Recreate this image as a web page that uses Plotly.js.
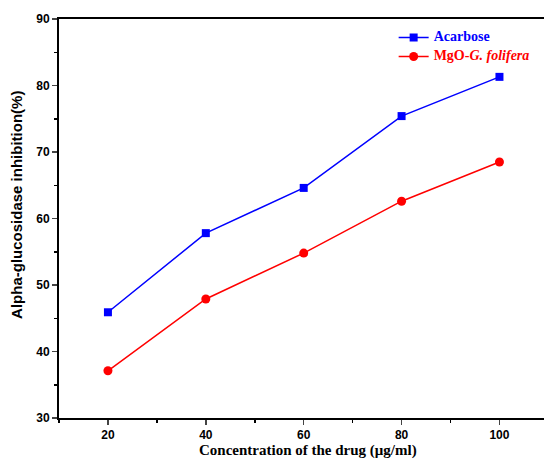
<!DOCTYPE html>
<html>
<head>
<meta charset="utf-8">
<script src="https://cdn.plot.ly/plotly-3.0.1.min.js"></script>
<style>html,body{margin:0;padding:0;background:#fff;}#chart{width:544px;height:459px;}</style>
</head>
<body>
<div id="chart"></div>
<script>
const concentrations = [20, 40, 60, 80, 100];
const acarbose = [45.9, 57.8, 64.6, 75.4, 81.3];
const mgoFolifera = [37.1, 47.9, 54.8, 62.6, 68.5];
const xTickVals = [20, 40, 60, 80, 100];
const yTickVals = [30, 40, 50, 60, 70, 80, 90];

const traces = [
  {
    x: concentrations, y: acarbose, type: 'scatter', mode: 'lines+markers',
    name: '<span style="color:#0000ff;font-size:14px"><b>Acarbose</b></span>',
    line: {color: '#0000ff', width: 1.5},
    marker: {symbol: 'square', size: 8, color: '#0000ff'}
  },
  {
    x: concentrations, y: mgoFolifera, type: 'scatter', mode: 'lines+markers',
    name: '<span style="color:#ff0000;font-size:14px"><b>MgO-<i>G. folifera</i></b></span>',
    line: {color: '#ff0000', width: 1.5},
    marker: {symbol: 'circle', size: 9, color: '#ff0000'}
  }
];

const layout = {
  width: 544, height: 459,
  margin: {l: 59, r: 0, t: 19, b: 41},
  paper_bgcolor: '#fff', plot_bgcolor: '#fff',
  showlegend: true,
  legend: {
    x: 0.69, y: 0.99, xanchor: 'left', yanchor: 'top',
    bgcolor: 'rgba(0,0,0,0)', borderwidth: 0,
    font: {family: 'Liberation Serif, Times New Roman, serif', size: 10},
    tracegroupgap: 0, itemwidth: 30
  },
  xaxis: {
    range: [10, 109.1], tickvals: xTickVals, ticks: 'outside', ticklen: 5, tickwidth: 1.5,
    showline: true, linecolor: '#000', linewidth: 2, mirror: true, showgrid: false, zeroline: false,
    tickfont: {family: 'Liberation Sans, Arial, sans-serif', size: 12, color: '#000', weight: 'bold'},
    minor: {dtick: 10, tick0: 10, ticks: 'outside', ticklen: 3, tickwidth: 1.5, tickcolor: '#000', showgrid: false}
  },
  yaxis: {
    range: [30, 90], tickvals: yTickVals, ticks: 'outside', ticklen: 5, tickwidth: 1.5,
    showline: true, linecolor: '#000', linewidth: 2, mirror: false, showgrid: false, zeroline: false,
    tickfont: {family: 'Liberation Sans, Arial, sans-serif', size: 12, color: '#000', weight: 'bold'},
    minor: {dtick: 5, tick0: 35, ticks: 'outside', ticklen: 3, tickwidth: 1.5, tickcolor: '#000', showgrid: false}
  },
  annotations: [
    {
      text: '<b>Alpha-glucosidase inhibition(%)</b>',
      xref: 'paper', yref: 'paper', x: -0.0866, y: 0.534,
      xanchor: 'center', yanchor: 'middle', textangle: -90, showarrow: false,
      font: {family: 'Liberation Sans, Arial, sans-serif', size: 15, color: '#000'}
    },
    {
      text: '<b>Concentration of the drug (μg/ml)</b>',
      xref: 'paper', yref: 'paper', x: 0.513, y: -0.0827,
      xanchor: 'center', yanchor: 'middle', showarrow: false,
      font: {family: 'Liberation Serif, Times New Roman, serif', size: 15, color: '#000'}
    }
  ]
};

Plotly.newPlot('chart', traces, layout, {displayModeBar: false, staticPlot: true});
</script>
</body>
</html>
